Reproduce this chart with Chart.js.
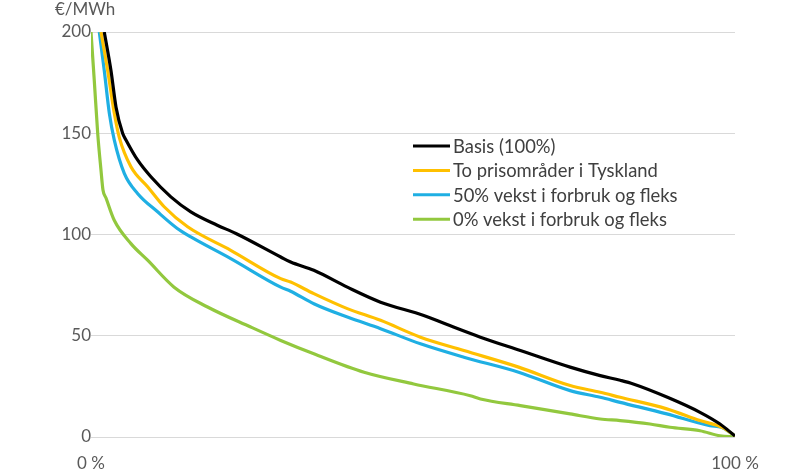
<!DOCTYPE html>
<html>
<head>
<meta charset="utf-8">
<script src="https://cdn.jsdelivr.net/npm/chart.js@4/dist/chart.umd.min.js"></script>
<style>
  html, body { margin: 0; padding: 0; background: #fff; }
  #wrap { width: 785px; height: 472px; position: relative; }
</style>
</head>
<body>
<div id="wrap"><canvas id="c" width="785" height="472"></canvas></div>
<script>
// Price duration curves: share of hours (%) against price (€/MWh)
const seriesLabels = [
  'Basis (100%)',
  'To prisområder i Tyskland',
  '50% vekst i forbruk og fleks',
  '0% vekst i forbruk og fleks'
];
const seriesColors = ['#000000', '#FFC000', '#1FAFE3', '#92C83E'];

const basisPct   = [2.06, 3.1, 3.88, 4.91, 5.43, 7.23, 9.3, 12.4, 15.5, 19.6, 22.5, 29.46, 31.0, 34.6, 39.8, 44.96, 51.67, 55.3, 60.47, 66.67, 74.4, 79.07, 82.17, 84.2, 89.6, 94.57, 97.67, 100];
const basisPrice = [200, 181, 163, 150, 146.7, 136.8, 128.5, 118.6, 111.2, 104.6, 100.5, 88.9, 86.4, 82.3, 74, 66.6, 60, 55.5, 49.3, 42.7, 34.5, 30.3, 28, 26.2, 19.5, 12.2, 6.4, 0.5];

const toPct   = [1.55, 2.59, 3.61, 4.39, 6.2, 8.79, 11.36, 15.0, 21.7, 29.46, 31.0, 34.6, 39.8, 44.96, 51.16, 57.9, 66.4, 74.4, 79.07, 82.17, 89.4, 94.57, 98.1, 100];
const toPrice = [200, 181, 160, 148, 133.5, 123.6, 113.7, 103.8, 92.2, 78.2, 76.5, 70.8, 63.4, 57.6, 49.3, 42.7, 34.5, 25.4, 22.1, 19.6, 13.9, 8.1, 4.6, 0.5];

const vekst50Pct   = [1.29, 2.06, 2.84, 3.61, 5.17, 7.23, 10.34, 13.4, 15.5, 21.7, 29.46, 31.0, 34.6, 39.8, 44.96, 51.16, 57.9, 66.4, 74.4, 79.07, 82.17, 89.4, 96.1, 97.9, 100];
const vekst50Price = [200, 181, 160, 146.7, 130.2, 120.3, 111.2, 103, 98.8, 88.1, 74, 72, 65.8, 59.2, 53.5, 46, 39.4, 32, 22.9, 19.6, 17.1, 11.4, 5.6, 4.8, 0.5];

const vekst0Pct   = [0, 0.51, 1.04, 1.55, 1.86, 2.33, 3.61, 6.2, 8.79, 12.9, 18.1, 24.8, 29.46, 34.6, 42.4, 50.1, 58.9, 60.47, 66.67, 74.4, 79.07, 82.17, 86.8, 89.9, 94.57, 97.67, 100];
const vekst0Price = [200, 176, 150, 131.8, 122, 118, 107, 95.5, 87.3, 74, 64.2, 54.3, 47.7, 41.1, 32, 26.2, 20.4, 18.8, 15.5, 11.4, 8.9, 8.1, 6.4, 4.8, 3.1, 0.6, 0];

const xTicks = [0, 100];
const yTicks = [0, 50, 100, 150, 200];
const unitLabel = '€/MWh';

const toPoints = (xs, ys) => xs.map((x, i) => ({ x: x, y: ys[i] }));
const seriesData = [
  toPoints(basisPct, basisPrice),
  toPoints(toPct, toPrice),
  toPoints(vekst50Pct, vekst50Price),
  toPoints(vekst0Pct, vekst0Price)
];

const FONT = 'Lato, "Noto Sans", sans-serif';

// Legend drawn inside the plot area, to the right of the curves
const insideLegend = {
  id: 'insideLegend',
  afterDatasetsDraw(chart, args, opts) {
    const ctx = chart.ctx;
    ctx.save();
    ctx.font = '18.4px ' + FONT;
    ctx.textBaseline = 'middle';
    ctx.textAlign = 'left';
    chart.data.datasets.forEach((ds, i) => {
      const y = opts.y + i * opts.rowGap;
      ctx.strokeStyle = ds.borderColor;
      ctx.lineWidth = 3;
      ctx.beginPath();
      ctx.moveTo(opts.x, y);
      ctx.lineTo(opts.x + opts.lineLen, y);
      ctx.stroke();
      ctx.fillStyle = '#404040';
      ctx.fillText(ds.label, opts.x + opts.lineLen + 3, y + 1);
    });
    ctx.restore();
  }
};

// Unit caption above the value axis
const unitCaption = {
  id: 'unitCaption',
  afterDraw(chart) {
    const ctx = chart.ctx;
    ctx.save();
    ctx.font = '17px ' + FONT;
    ctx.fillStyle = '#595959';
    ctx.textBaseline = 'middle';
    ctx.textAlign = 'left';
    ctx.fillText(unitLabel, 55, 10);
    ctx.restore();
  }
};

new Chart(document.getElementById('c'), {
  type: 'line',
  data: {
    datasets: seriesData.map((pts, i) => ({
      label: seriesLabels[i],
      data: pts,
      borderColor: seriesColors[i],
      backgroundColor: seriesColors[i],
      borderWidth: 3.2,
      pointRadius: 0,
      cubicInterpolationMode: 'monotone',
      fill: false
    }))
  },
  options: {
    responsive: false,
    animation: false,
    devicePixelRatio: 1,
    layout: { padding: { top: 32, right: 50, left: 0, bottom: 0 } },
    plugins: {
      legend: { display: false },
      tooltip: { enabled: false },
      insideLegend: { x: 413, y: 146, rowGap: 24.4, lineLen: 37 }
    },
    scales: {
      x: {
        type: 'linear',
        min: 0,
        max: 100,
        afterBuildTicks(axis) { axis.ticks = xTicks.map(v => ({ value: v })); },
        afterFit(axis) { axis.height = 35; },
        ticks: {
          callback: v => v + ' %',
          color: '#595959',
          font: { family: FONT, size: 17 },
          padding: 16,
          maxRotation: 0,
          autoSkip: false
        },
        grid: { display: false, drawTicks: false },
        border: { display: false }
      },
      y: {
        min: 0,
        max: 200,
        afterBuildTicks(axis) { axis.ticks = yTicks.map(v => ({ value: v })); },
        afterFit(axis) { axis.width = 91; },
        ticks: {
          color: '#595959',
          font: { family: FONT, size: 17 },
          padding: 0
        },
        grid: { color: '#D9D9D9', lineWidth: 1, drawTicks: false },
        border: { display: false }
      }
    }
  },
  plugins: [insideLegend, unitCaption]
});
</script>
</body>
</html>
